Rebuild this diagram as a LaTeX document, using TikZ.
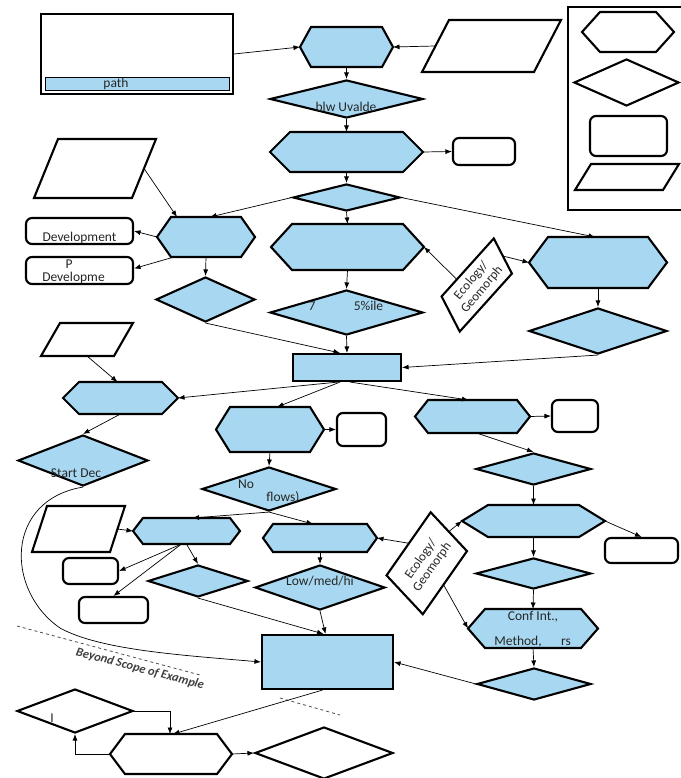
\documentclass[tikz,border=0pt]{standalone}
\usepackage{fontspec}
\setmainfont{Carlito}
\usetikzlibrary{shapes.geometric,arrows.meta,calc}

\definecolor{boxblue}{RGB}{168,216,241}

% outline of a hexagon / parallelogram laid over a named frame node
\newcommand{\hexpath}[2]{(#1.west) -- ($(#1.north west)+(#2,0)$) -- ($(#1.north east)+(-#2,0)$) -- (#1.east) -- ($(#1.south east)+(-#2,0)$) -- ($(#1.south west)+(#2,0)$) -- cycle}
\newcommand{\parpath}[2]{(#1.south west) -- ($(#1.north west)+(#2,0)$) -- (#1.north east) -- ($(#1.south east)+(-#2,0)$) -- cycle}
\newcommand{\ecopath}[2]{(#1.south west) -- ($(#1.north west)!#2!(#1.north east)$) -- (#1.north east) -- ($(#1.south east)!#2!(#1.south west)$) -- cycle}

\begin{document}
\begin{tikzpicture}[x=1pt,y=1pt,yscale=-1,
  boxsize/.style 2 args={minimum width=#1pt, minimum height=#2pt},
  frame/.style={rectangle, draw=none, inner sep=0pt, outer sep=0pt},
  shapeline/.style={line width=2.1pt},
  bluefill/.style={shapeline, draw=black, fill=boxblue},
  whitefill/.style={shapeline, draw=black, fill=white},
  decision/.style={diamond, draw, shapeline, fill=boxblue, inner sep=0pt},
  plainbox/.style={rectangle, draw, shapeline, fill=white, inner sep=0pt},
  outbox/.style={plainbox, rounded corners=6pt},
  link/.style={line width=0.7pt, -{Latex[length=6.5pt,width=5pt]}},
  lbl/.style={inner sep=0.75pt, text=black!85, font=\fontsize{13.5}{15}\selectfont}]
\useasboundingbox (0,0) rectangle (680,778);

%Shape: Input box [top left]
\node[plainbox, boxsize={192}{80}] (inbox) at (137,54) {};
\node[rectangle, draw, line width=0.7pt, fill=boxblue, inner sep=0pt, boxsize={184}{13}] (pathbar) at (137,83.5) {};
% Text Node
\node[lbl] (tPath) at (116,84) {path};

%Shape: Hexagon
\node[frame, boxsize={93}{40}] (hexStart) at (346.5,47) {};
\draw[bluefill] \hexpath{hexStart}{11};
%Shape: Parallelogram
\node[frame, boxsize={139}{52}] (dataIn) at (491.5,46) {};
\draw[whitefill] \parpath{dataIn}{27};
%Shape: Diamond
\node[decision, boxsize={153}{38}] (decUvalde) at (346.5,99) {};
% Text Node
\node[lbl] (tUvalde) at (346,107) {blw Uvalde};
%Shape: Hexagon
\node[frame, boxsize={153}{40}] (hexTwo) at (346.5,152) {};
\draw[bluefill] \hexpath{hexTwo}{20};
%Shape: Rounded box
\node[outbox, boxsize={62}{27}] (outTwo) at (484,151.5) {};

%Shape: Legend
\node[plainbox, fill=none, boxsize={116}{203}] (legend) at (626,108.5) {};
\node[frame, boxsize={92}{40}] (legHex) at (628,32) {};
\draw[whitefill] \hexpath{legHex}{18};
\node[decision, fill=white, boxsize={105}{47}] (legDia) at (626.5,82.5) {};
\node[outbox, boxsize={77}{40}] (legRect) at (628.5,136) {};
\node[frame, boxsize={104}{26}] (legPar) at (627,177) {};
\draw[whitefill] \parpath{legPar}{16};

%Shape: Diamond
\node[decision, boxsize={107}{27}] (decTwo) at (346.5,197.5) {};
%Shape: Parallelogram
\node[frame, boxsize={122}{59}] (parLeftA) at (95,168.5) {};
\draw[whitefill] \parpath{parLeftA}{24};
%Shape: Hexagon
\node[frame, boxsize={98}{40}] (hexLeft) at (206,237) {};
\draw[bluefill] \hexpath{hexLeft}{14};
%Shape: Rounded boxes
\node[outbox, boxsize={107}{26}] (devA) at (79.5,231) {};
\node[outbox, boxsize={107}{27}] (devB) at (79.5,270.5) {};
% Text Node
\node[lbl] (tDevA) at (79.5,238) {Development};
\node[lbl] (tDevB) at (69,264) {P};
\node[lbl] (tDevC) at (73.5,278) {Developme};
%Shape: Diamond
\node[decision, boxsize={99}{45}] (decLeft) at (205.5,299.5) {};
%Shape: Hexagon
\node[frame, boxsize={153}{46}] (hexMid) at (347.5,247) {};
\draw[bluefill] \hexpath{hexMid}{21};
%Shape: Diamond
\node[decision, boxsize={153}{45}] (decPct) at (346.5,312.5) {};
% Text Node
\node[lbl] (tPctA) at (312,306) {7};
\node[lbl] (tPctB) at (368.5,306) {5\%ile};

%Shape: Ecology parallelogram
\node[frame, rotate=48, boxsize={92}{37}] (ecoTop) at (476.75,285) {};
\draw[whitefill] \ecopath{ecoTop}{14pt};
\node[lbl, rotate=50, align=center, font=\fontsize{13}{14}\selectfont] (tEcoTop) at (ecoTop.center) {Ecology/\\Geomorph};

%Shape: Hexagon
\node[frame, boxsize={138}{51}] (hexRight) at (598,262.5) {};
\draw[bluefill] \hexpath{hexRight}{19};
%Shape: Diamond
\node[decision, boxsize={138}{46}] (decRight) at (598,331) {};
%Shape: Parallelogram
\node[frame, boxsize={92}{33}] (parLeftB) at (87,339.5) {};
\draw[whitefill] \parpath{parLeftB}{19};
%Shape: Hub box
\node[plainbox, fill=boxblue, boxsize={108}{27}] (hub) at (347,367.5) {};

%Shape: Hexagon
\node[frame, boxsize={115}{32}] (hexSix) at (120.5,398) {};
\draw[bluefill] \hexpath{hexSix}{16};
%Shape: Diamond
\node[decision, boxsize={130}{51}] (decStart) at (83,460.5) {};
% Text Node
\node[lbl] (tStart) at (76,473) {Start Dec};
%Shape: Hexagon
\node[frame, boxsize={108}{45}] (hexSeven) at (270,429.5) {};
\draw[bluefill] \hexpath{hexSeven}{14};
\node[outbox, boxsize={49}{33}] (outSeven) at (361.5,429.5) {};
%Shape: Diamond
\node[decision, boxsize={134}{44}] (decNo) at (269,489) {};
% Text Node
\node[lbl] (tNo) at (246,484) {No};
\node[lbl] (tFlows) at (283,497) {flows)};
%Shape: Hexagon
\node[frame, boxsize={115}{33}] (hexEight) at (472.5,416.5) {};
\draw[bluefill] \hexpath{hexEight}{13};
\node[outbox, boxsize={46}{32}] (outEight) at (575,416) {};
%Shape: Diamond
\node[decision, boxsize={115}{32}] (decSeven) at (533.5,469) {};
%Shape: Hexagon
\node[frame, boxsize={143}{32}] (hexNine) at (533.5,521) {};
\draw[bluefill] \hexpath{hexNine}{26};
\node[outbox, boxsize={73}{25}] (outNine) at (641.5,550.5) {};
%Shape: Diamond
\node[decision, boxsize={115}{31}] (decEight) at (533.5,573.5) {};
%Shape: Hexagon
\node[frame, boxsize={130}{39}] (hexConf) at (533,628.5) {};
\draw[bluefill] \hexpath{hexConf}{17};
% Text Node
\node[lbl] (tConf) at (533,617) {Conf Int.,};
\node[lbl] (tMethod) at (518,642) {Method,};
\node[lbl] (tRs) at (566,642) {rs};
%Shape: Diamond
\node[decision, boxsize={114}{32}] (decNine) at (534,684) {};

%Shape: Ecology parallelogram
\node[frame, rotate=55, boxsize={88}{52}] (ecoLow) at (426.75,563.25) {};
\draw[whitefill] \ecopath{ecoLow}{11pt};
\node[lbl, rotate=55, align=center, font=\fontsize{13}{14}\selectfont] (tEcoLow) at (ecoLow.center) {Ecology/\\Geomorph};

%Shape: Hexagons
\node[frame, boxsize={114}{28}] (hexEleven) at (320,538) {};
\draw[bluefill] \hexpath{hexEleven}{10};
\node[frame, boxsize={107}{26}] (hexTwelve) at (186.5,531) {};
\draw[bluefill] \hexpath{hexTwelve}{10};
%Shape: Parallelogram
\node[frame, boxsize={93}{46}] (parLeftC) at (78.5,529) {};
\draw[whitefill] \parpath{parLeftC}{15};
%Shape: Diamonds
\node[decision, boxsize={130}{45}] (decLow) at (320,587.5) {};
\node[decision, boxsize={100}{32}] (decSmall) at (198,581) {};
% Text Node
\node[lbl] (tLow) at (320,581) {Low/med/hi};
%Shape: Rounded boxes
\node[outbox, boxsize={55}{26}] (outA) at (90.5,571) {};
\node[outbox, boxsize={69}{26}] (outB) at (113.5,610) {};
%Shape: Result box
\node[plainbox, fill=boxblue, boxsize={131}{54}] (result) at (327.5,662) {};

%Scope line
\draw[dashed, line width=0.8pt, black!70] (17,626) -- (200,675);
\draw[dashed, line width=0.8pt, black!70] (280,698) -- (340,715);
% Text Node
\node[lbl, rotate=-15, font=\fontsize{12.5}{15}\selectfont\bfseries\itshape, text=black!75] (tScope) at (140,669) {Beyond Scope of Example};

%Shape: Bottom loop
\node[decision, fill=white, boxsize={116}{44}] (decI) at (75,711) {};
\node[lbl] (tI) at (52,718) {I};
\node[frame, boxsize={122}{40}] (hexBottom) at (171,754) {};
\draw[whitefill] \hexpath{hexBottom}{15};
\node[decision, fill=white, boxsize={138}{52}] (decEnd) at (324,753) {};

%Connectors
\draw[link] (inbox.east) -- (hexStart.west);
\draw[link] ($(dataIn.west)+(13,0)$) -- (hexStart.east);
\draw[link] (hexStart.south) -- (decUvalde.north);
\draw[link] (decUvalde.south) -- (hexTwo.north);
\draw[link] (hexTwo.east) -- (outTwo.west);
\draw[link] (hexTwo.south) -- (decTwo.north);
\draw[link] (decTwo.south) -- (hexMid.north);
\draw[link] ($(parLeftA.east)+(-12,0)$) -- ($(hexLeft.north)+(-29,0)$);
\draw[link] (decTwo.west) -- ($(hexLeft.north)+(4,0)$);
\draw[link] (decTwo.east) -- ($(hexRight.north)+(-3,0)$);
\draw[link] (hexLeft.west) -- (devA.east);
\draw[link] ($(hexLeft.south west)+(17,0)$) -- ($(devB.east)+(0,-2)$);
\draw[link] (hexLeft.south) -- (decLeft.north);
\draw[link] (decLeft.south) -- ($(hub.north)+(-7,0)$);
\draw[link] (hexMid.south) -- (decPct.north);
\draw[link] (decPct.south) -- (hub.north);
\draw[link] ($(ecoTop.north west)!.4!(ecoTop.north east)$) -- (hexMid.east);
\draw[link] ($(ecoTop.east)!7pt!(ecoTop.center)$) -- (hexRight.west);
\draw[link] (hexRight.south) -- (decRight.north);
\draw[link] (decRight.south) -- (hub.east);
\draw[link] (parLeftB.south) -- ($(hexSix.north)+(-3,0)$);
\draw[link] ($(hub.south)+(-9,0)$) -- (hexSix.east);
\draw[link] ($(hub.south)+(-7,0)$) -- ($(hexSeven.north)+(7,0)$);
\draw[link] ($(hub.south)+(3,0)$) -- ($(hexEight.north)+(-4,0)$);
\draw[link] (hexSix.south) -- (decStart.north);
\draw[link] (decStart.south) .. controls (5,500) and (5,590) .. (60,628) .. controls (100,650) and (180,655) .. (result.west);
\draw[link] (hexSeven.east) -- (outSeven.west);
\draw[link] (hexSeven.south) -- (decNo.north);
\draw[link] (hexEight.east) -- (outEight.west);
\draw[link] ($(hexEight.south)+(4,0)$) -- (decSeven.north);
\draw[link] (decSeven.south) -- (hexNine.north);
\draw[link] (hexNine.east) -- (outNine.north);
\draw[link] (hexNine.south) -- (decEight.north);
\draw[link] (decEight.south) -- (hexConf.north);
\draw[link] (hexConf.south) -- (decNine.north);
\draw[link] (decNine.west) -- (result.east);
\draw[link] ($(ecoLow.east)!5pt!(ecoLow.center)$) -- (hexNine.west);
\draw[link] ($(ecoLow.north west)!.57!(ecoLow.north east)$) -- (hexEleven.east);
\draw[link] ($(ecoLow.south west)!.41!(ecoLow.south east)$) -- (hexConf.west);
\draw[link] (decNo.south) -- ($(hexEleven.north)+(-7,0)$);
\draw[link] (decNo.south) -- ($(hexTwelve.north)+(6,0)$);
\draw[link] ($(parLeftC.east)+(-8,0)$) -- (hexTwelve.west);
\draw[link] (hexTwelve.south) -- (decSmall.north);
\draw[link] ($(hexTwelve.south)+(-5,0)$) -- (outA.east);
\draw[link] ($(hexTwelve.south)+(-5,0)$) -- (outB.north);
\draw[link] (hexEleven.south) -- (decLow.north);
\draw[link] (decLow.south) -- ($(result.north)+(-2,0)$);
\draw[link] (decSmall.south) -- ($(result.north)+(-4,0)$);
\draw[link] ($(result.south)+(-5,0)$) -- ($(hexBottom.north)+(2,0)$);
\draw[link] (decI.east) -| ($(hexBottom.north)+(-1,0)$);
\draw[link] (hexBottom.west) -| (decI.south);
\draw[link] (hexBottom.east) -- (decEnd.west);

\end{tikzpicture}
\end{document}
